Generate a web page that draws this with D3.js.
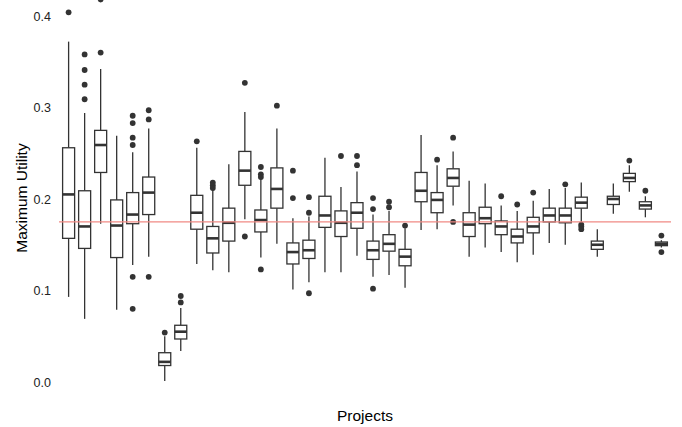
<!DOCTYPE html>
<html>
<head>
<meta charset="utf-8">
<script src="https://cdn.jsdelivr.net/npm/d3@7"></script>
<style>
  body { margin: 0; background: #fff; }
  text { font-family: "Liberation Sans", Arial, sans-serif; }
</style>
</head>
<body>
<div id="chart"></div>
<script>
// one entry per project
const projects = d3.range(1, 39).map(function(i) { return "P" + i; });
const whiskerLow = [0.093, 0.069, 0.173, 0.079, 0.128, 0.137, 0.001, 0.034, 0.129, 0.122,
                    0.120, 0.178, 0.136, 0.151, 0.101, 0.109, 0.120, 0.120, 0.138, 0.115,
                    0.117, 0.103, 0.166, 0.167, 0.193, 0.137, 0.147, 0.142, 0.131, 0.139,
                    0.152, 0.150, 0.175, 0.137, 0.184, 0.208, 0.180, 0.147];
const q1 =         [0.157, 0.146, 0.229, 0.136, 0.173, 0.183, 0.018, 0.047, 0.167, 0.141,
                    0.154, 0.215, 0.164, 0.190, 0.129, 0.135, 0.169, 0.159, 0.168, 0.134,
                    0.143, 0.127, 0.197, 0.185, 0.214, 0.159, 0.173, 0.161, 0.152, 0.163,
                    0.175, 0.174, 0.190, 0.145, 0.194, 0.219, 0.189, 0.149];
const median =     [0.205, 0.170, 0.259, 0.171, 0.183, 0.207, 0.022, 0.055, 0.185, 0.157,
                    0.174, 0.231, 0.177, 0.211, 0.142, 0.144, 0.182, 0.174, 0.185, 0.144,
                    0.151, 0.137, 0.209, 0.199, 0.223, 0.172, 0.179, 0.170, 0.159, 0.170,
                    0.182, 0.182, 0.196, 0.150, 0.200, 0.223, 0.193, 0.151];
const q3 =         [0.256, 0.209, 0.275, 0.199, 0.207, 0.224, 0.032, 0.062, 0.204, 0.170,
                    0.190, 0.252, 0.188, 0.234, 0.152, 0.155, 0.203, 0.187, 0.196, 0.154,
                    0.161, 0.145, 0.229, 0.207, 0.233, 0.185, 0.191, 0.176, 0.167, 0.180,
                    0.190, 0.190, 0.202, 0.154, 0.203, 0.228, 0.197, 0.153];
const whiskerHigh = [0.372, 0.294, 0.342, 0.269, 0.251, 0.277, 0.050, 0.081, 0.256, 0.210,
                    0.238, 0.295, 0.223, 0.277, 0.179, 0.181, 0.245, 0.213, 0.230, 0.183,
                    0.187, 0.168, 0.270, 0.237, 0.252, 0.220, 0.217, 0.193, 0.187, 0.198,
                    0.211, 0.212, 0.218, 0.167, 0.217, 0.237, 0.203, 0.155];
const outliers = [
  [0.404], [0.358, 0.341, 0.325, 0.309], [0.418, 0.360], [],
  [0.291, 0.283, 0.267, 0.259, 0.115, 0.080], [0.297, 0.287, 0.115], [0.054], [0.094, 0.087],
  [0.263], [0.218, 0.215, 0.212], [], [0.327, 0.159],
  [0.235, 0.227, 0.224, 0.123], [0.302], [0.231, 0.201], [0.202, 0.185, 0.097],
  [], [0.247], [0.247, 0.237], [0.201, 0.189, 0.102],
  [0.197, 0.191], [0.171], [], [0.243],
  [0.267, 0.175], [], [], [0.203],
  [0.194], [0.207], [], [0.216],
  [0.172, 0.170, 0.167], [], [], [0.242],
  [0.209], [0.160, 0.142]
];
const yTicks = [0.0, 0.1, 0.2, 0.3, 0.4];
const refLine = 0.175;

const width = 682, height = 427;
const margin = { left: 59, right: 11, top: 0, bottom: 45 };

const svg = d3.select("#chart").append("svg")
    .attr("width", width)
    .attr("height", height);

const x = d3.scalePoint()
    .domain(projects)
    .range([margin.left, width - margin.right])
    .padding(0.6);
const step = x.step();
const boxW = step * 0.75;

// 0.0 sits at y=382, 0.4 at y=16
const y = d3.scaleLinear()
    .domain([0, 0.4])
    .range([382, 16]);

// y axis: labels only, no line, no ticks
const yAxis = d3.axisLeft(y)
    .tickValues(yTicks)
    .tickFormat(d3.format(".1f"))
    .tickSize(0)
    .tickPadding(7);
const gy = svg.append("g")
    .attr("transform", "translate(" + (margin.left - 1) + ",0)")
    .call(yAxis);
gy.select(".domain").remove();
gy.selectAll("text")
    .attr("fill", "#222")
    .style("font-size", "12.5px");

const color = "#333";

const boxes = svg.append("g").selectAll("g")
    .data(projects)
    .join("g")
    .attr("transform", function(d) { return "translate(" + x(d) + ",0)"; });

// whiskers
boxes.append("line")
    .attr("x1", 0).attr("x2", 0)
    .attr("y1", function(d, i) { return y(whiskerHigh[i]); })
    .attr("y2", function(d, i) { return y(q3[i]); })
    .attr("stroke", color).attr("stroke-width", 1.3);
boxes.append("line")
    .attr("x1", 0).attr("x2", 0)
    .attr("y1", function(d, i) { return y(q1[i]); })
    .attr("y2", function(d, i) { return y(whiskerLow[i]); })
    .attr("stroke", color).attr("stroke-width", 1.3);

// box body
boxes.append("rect")
    .attr("x", -boxW / 2)
    .attr("width", boxW)
    .attr("y", function(d, i) { return y(q3[i]); })
    .attr("height", function(d, i) { return y(q1[i]) - y(q3[i]); })
    .attr("fill", "#fff")
    .attr("stroke", color)
    .attr("stroke-width", 1.3);

// median
boxes.append("line")
    .attr("x1", -boxW / 2).attr("x2", boxW / 2)
    .attr("y1", function(d, i) { return y(median[i]); })
    .attr("y2", function(d, i) { return y(median[i]); })
    .attr("stroke", color).attr("stroke-width", 2.6);

// outlier points
boxes.selectAll("circle")
    .data(function(d, i) { return outliers[i]; })
    .join("circle")
    .attr("cx", 0)
    .attr("cy", function(v) { return y(v); })
    .attr("r", 2.9)
    .attr("fill", color);

// reference line
svg.append("line")
    .attr("x1", margin.left).attr("x2", width - margin.right)
    .attr("y1", y(refLine)).attr("y2", y(refLine))
    .attr("stroke", "#f08a84")
    .attr("stroke-width", 1.2);

// axis titles
svg.append("text")
    .attr("x", (margin.left + width - margin.right) / 2)
    .attr("y", 421)
    .attr("text-anchor", "middle")
    .attr("fill", "#000")
    .style("font-size", "15.5px")
    .text("Projects");

svg.append("text")
    .attr("transform", "translate(27,198) rotate(-90)")
    .attr("text-anchor", "middle")
    .attr("fill", "#000")
    .style("font-size", "15.5px")
    .text("Maximum Utility");
</script>
</body>
</html>
